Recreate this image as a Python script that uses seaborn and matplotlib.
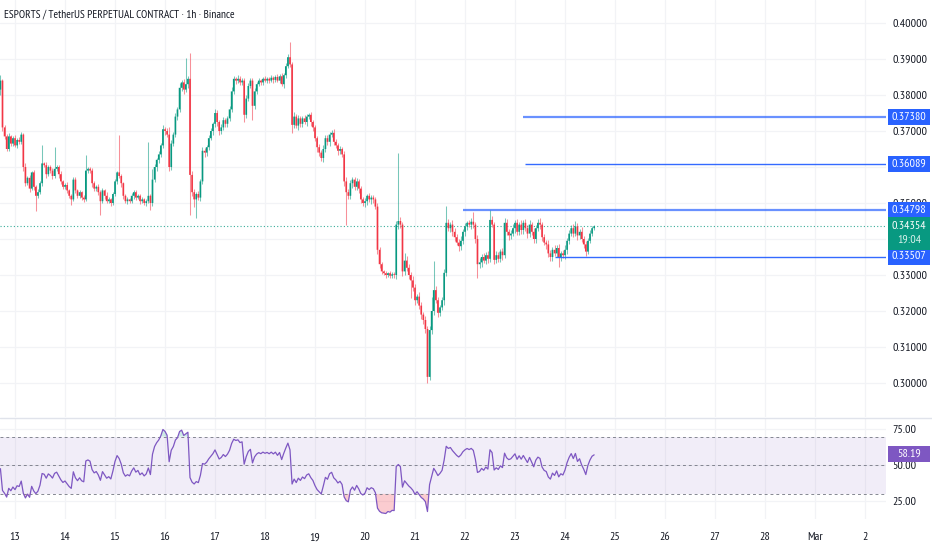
import os
import numpy as np
import pandas as pd
import matplotlib
matplotlib.use("Agg")
import matplotlib.pyplot as plt
import matplotlib.dates as mdates
import matplotlib.transforms as mtrans
from matplotlib import font_manager as fm
from matplotlib.lines import Line2D
from matplotlib.patches import Rectangle
import seaborn as sns

title = "ESPORTS / TetherUS PERPETUAL CONTRACT · 1h · Binance"
first_candle = "2025-02-12 17:00"
first_open = 0.3815

# hourly closes, one row = 12 candles
closes = [
    0.3840, 0.3710, 0.3685, 0.3650, 0.3685, 0.3665, 0.3680, 0.3660, 0.3675, 0.3670, 0.3690, 0.3600,
    0.3555, 0.3570, 0.3540, 0.3585, 0.3545, 0.3520, 0.3530, 0.3555, 0.3610, 0.3605, 0.3580, 0.3600,
    0.3590, 0.3575, 0.3595, 0.3600, 0.3580, 0.3560, 0.3545, 0.3550, 0.3535, 0.3520, 0.3510, 0.3565,
    0.3535, 0.3520, 0.3530, 0.3515, 0.3510, 0.3590, 0.3595, 0.3590, 0.3555, 0.3540, 0.3545, 0.3530,
    0.3505, 0.3535, 0.3520, 0.3505, 0.3510, 0.3500, 0.3525, 0.3560, 0.3585, 0.3575, 0.3555, 0.3520,
    0.3505, 0.3510, 0.3505, 0.3520, 0.3530, 0.3515, 0.3520, 0.3505, 0.3510, 0.3500, 0.3505, 0.3520,
    0.3500, 0.3565, 0.3600, 0.3620, 0.3635, 0.3660, 0.3705, 0.3700, 0.3690, 0.3600, 0.3665, 0.3690,
    0.3740, 0.3760, 0.3820, 0.3835, 0.3815, 0.3830, 0.3845, 0.3578, 0.3530, 0.3510, 0.3525, 0.3515,
    0.3560, 0.3645, 0.3640, 0.3655, 0.3680, 0.3700, 0.3720, 0.3750, 0.3725, 0.3700, 0.3710, 0.3730,
    0.3720, 0.3735, 0.3760, 0.3810, 0.3845, 0.3840, 0.3845, 0.3835, 0.3840, 0.3745, 0.3790, 0.3825,
    0.3840, 0.3770, 0.3810, 0.3830, 0.3840, 0.3835, 0.3845, 0.3840, 0.3845, 0.3840, 0.3848, 0.3842,
    0.3850, 0.3840, 0.3852, 0.3830, 0.3855, 0.3880, 0.3905, 0.3885, 0.3717, 0.3740, 0.3715, 0.3735,
    0.3720, 0.3735, 0.3725, 0.3740, 0.3745, 0.3725, 0.3710, 0.3680, 0.3655, 0.3640, 0.3625, 0.3650,
    0.3680, 0.3670, 0.3690, 0.3695, 0.3670, 0.3660, 0.3645, 0.3650, 0.3635, 0.3560, 0.3530, 0.3520,
    0.3555, 0.3565, 0.3545, 0.3560, 0.3540, 0.3510, 0.3500, 0.3505, 0.3520, 0.3510, 0.3515, 0.3510,
    0.3490, 0.3370, 0.3330, 0.3310, 0.3305, 0.3300, 0.3305, 0.3298, 0.3302, 0.3300, 0.3440, 0.3450,
    0.3440, 0.3310, 0.3340, 0.3320, 0.3300, 0.3285, 0.3265, 0.3230, 0.3240, 0.3215, 0.3190, 0.3175,
    0.3150, 0.3017, 0.3147, 0.3200, 0.3258, 0.3230, 0.3195, 0.3210, 0.3230, 0.3306, 0.3445, 0.3430,
    0.3440, 0.3420, 0.3405, 0.3390, 0.3380, 0.3395, 0.3420, 0.3435, 0.3445, 0.3440, 0.3448, 0.3440,
    0.3400, 0.3330, 0.3335, 0.3350, 0.3340, 0.3355, 0.3345, 0.3453, 0.3440, 0.3342, 0.3355, 0.3345,
    0.3365, 0.3355, 0.3445, 0.3420, 0.3410, 0.3415, 0.3430, 0.3445, 0.3420, 0.3440, 0.3425, 0.3445,
    0.3430, 0.3415, 0.3440, 0.3420, 0.3400, 0.3430, 0.3445, 0.3440, 0.3405, 0.3390, 0.3385, 0.3360,
    0.3350, 0.3370, 0.3360, 0.3375, 0.3350, 0.3360, 0.3355, 0.3370, 0.3395, 0.3415, 0.3430, 0.3415,
    0.3435, 0.3410, 0.3420, 0.3400, 0.3385, 0.3365, 0.3395, 0.3415, 0.3430, 0.34354,
]

# wick length above / below the body, in 0.0001
wick_up = [
    15, 5, 8, 6, 10, 4, 6, 8, 5, 7, 6, 4,
    10, 6, 8, 5, 6, 4, 8, 6, 50, 5, 8, 6,
    6, 8, 60, 5, 6, 8, 4, 6, 8, 5, 4, 6,
    8, 5, 6, 4, 8, 43, 6, 5, 8, 6, 5, 7,
    6, 8, 5, 10, 6, 4, 6, 8, 5, 105, 6, 4,
    5, 6, 4, 8, 6, 5, 6, 4, 6, 5, 6, 150,
    4, 30, 8, 6, 10, 8, 12, 6, 8, 20, 10, 8,
    10, 6, 12, 8, 10, 73, 8, 72, 10, 8, 6, 8,
    8, 10, 8, 6, 10, 8, 6, 12, 8, 6, 10, 8,
    6, 8, 10, 12, 8, 6, 10, 8, 6, 8, 10, 8,
    6, 8, 10, 6, 8, 5, 6, 8, 5, 6, 8, 5,
    6, 8, 5, 8, 6, 10, 8, 42, 8, 12, 8, 10,
    6, 8, 10, 8, 6, 8, 6, 8, 6, 10, 8, 12,
    8, 10, 6, 8, 10, 8, 6, 8, 6, 10, 12, 8,
    10, 8, 6, 10, 8, 6, 8, 10, 6, 8, 6, 8,
    6, 10, 8, 6, 5, 6, 4, 6, 5, 6, 10, 189,
    10, 8, 20, 12, 10, 8, 12, 10, 8, 12, 10, 8,
    10, 8, 10, 40, 82, 12, 10, 8, 10, 12, 47, 10,
    8, 12, 10, 8, 10, 12, 8, 10, 6, 8, 10, 27,
    8, 10, 12, 8, 10, 8, 12, 27, 10, 8, 12, 10,
    8, 10, 12, 10, 8, 10, 12, 8, 10, 8, 12, 8,
    10, 8, 12, 8, 10, 8, 10, 12, 8, 10, 8, 12,
    10, 8, 12, 8, 10, 8, 10, 12, 8, 10, 8, 12,
    15, 10, 8, 12, 8, 10, 8, 10, 6, 4,
]
wick_dn = [
    15, 10, 8, 6, 5, 8, 6, 4, 8, 6, 5, 10,
    8, 6, 10, 5, 8, 42, 6, 5, 8, 6, 10, 5,
    6, 8, 5, 6, 10, 8, 6, 5, 8, 6, 16, 5,
    8, 6, 5, 8, 6, 5, 8, 6, 10, 8, 6, 8,
    38, 6, 8, 5, 6, 8, 5, 6, 8, 6, 10, 8,
    6, 8, 5, 6, 8, 6, 5, 8, 6, 5, 8, 6,
    20, 8, 6, 10, 8, 6, 8, 10, 8, 12, 8, 6,
    8, 10, 6, 8, 12, 8, 10, 111, 10, 20, 52, 8,
    10, 8, 12, 10, 8, 6, 10, 8, 12, 10, 8, 6,
    8, 10, 6, 8, 6, 10, 8, 6, 8, 20, 10, 8,
    6, 40, 8, 6, 5, 8, 6, 5, 8, 6, 5, 8,
    6, 5, 8, 6, 10, 8, 6, 8, 23, 10, 8, 12,
    10, 8, 6, 10, 8, 12, 10, 8, 12, 10, 8, 10,
    8, 10, 12, 8, 10, 8, 12, 10, 8, 12, 91, 10,
    10, 12, 8, 10, 12, 10, 8, 12, 10, 8, 12, 10,
    8, 12, 10, 8, 6, 8, 6, 5, 6, 8, 10, 12,
    10, 12, 10, 8, 12, 50, 10, 12, 8, 10, 12, 10,
    12, 17, 10, 12, 10, 8, 12, 10, 8, 12, 10, 8,
    10, 12, 10, 8, 12, 10, 8, 12, 10, 8, 12, 10,
    12, 38, 10, 12, 8, 10, 12, 10, 8, 12, 10, 8,
    10, 12, 8, 10, 12, 10, 8, 12, 10, 8, 12, 10,
    8, 12, 10, 8, 12, 10, 8, 12, 10, 8, 12, 10,
    12, 10, 8, 10, 28, 12, 8, 10, 12, 10, 8, 10,
    8, 12, 10, 8, 10, 12, 8, 6, 8, 4,
]

# drawn horizontal levels
levels = [0.37380, 0.36089, 0.34798, 0.33507]
level_from = ["2025-02-23 04:00", "2025-02-23 05:00", "2025-02-21 23:00", "2025-02-23 19:00"]
level_lw = [1.6, 1.0, 1.6, 1.0]

last_price = 0.34354
countdown = "19:04"
rsi_label = 58.19
rsi_seed = (0.0009, 0.0012)  # avg gain / loss before the first candle

price_ticks = [0.30, 0.31, 0.32, 0.33, 0.34, 0.35, 0.36, 0.37, 0.38, 0.39, 0.40]
hidden_ticks = [0.34, 0.36]  # sit under the level boxes
rsi_ticks = [25, 50, 75]
days = pd.date_range("2025-02-13", "2025-03-02", freq="D")

UP, DN, BLUE, PURP, TXT = "#089981", "#f23645", "#2962ff", "#7e57c2", "#131722"
GRID = "#f2f3f6"

sns.set_style("white")
plt.rcParams["font.family"] = ["Liberation Sans", "DejaVu Sans"]


def pick_font():
    # the screenshot uses a narrow face, take one if the system has it
    for f in fm.fontManager.ttflist:
        base = os.path.basename(f.fname).lower()
        if "narrow" in base and "sans" in base and "regular" in base:
            return fm.FontProperties(fname=f.fname)
    return fm.FontProperties(family="Liberation Sans")


t = pd.date_range(first_candle, periods=len(closes), freq="h")
xs = mdates.date2num(t)
c = np.array(closes)
o = np.r_[first_open, c[:-1]]
hi = np.maximum(o, c) + np.array(wick_up) * 1e-4
lo = np.minimum(o, c) - np.array(wick_dn) * 1e-4
cols = np.where(c >= o, UP, DN)

# Wilder RSI 14
delta = c - o
gain = pd.Series(np.r_[rsi_seed[0], np.clip(delta, 0, None)])
loss = pd.Series(np.r_[rsi_seed[1], np.clip(-delta, 0, None)])
ag = gain.ewm(alpha=1 / 14, adjust=False).mean().iloc[1:].values
al = loss.ewm(alpha=1 / 14, adjust=False).mean().iloc[1:].values
rsi = 100 - 100 / (1 + ag / al)

W, H = 932, 550
fig = plt.figure(figsize=(W / 100, H / 100), dpi=100)
ax = fig.add_axes([0, 1 - 417 / H, 886 / W, 417 / H])
ax2 = fig.add_axes([0, 1 - 519 / H, 886 / W, 101 / H], sharex=ax)

renderer = fig.canvas.get_renderer()
base_font = pick_font()


def sized(text, px):
    probe = fig.text(0, 0, text, fontproperties=base_font, fontsize=10)
    w = probe.get_window_extent(renderer).width
    probe.remove()
    p = base_font.copy()
    p.set_size(10 * px / w)
    return p


lbl_font = sized("0.37380", 34)
title_font = sized(title, 232)

x0 = mdates.date2num(pd.Timestamp("2025-02-13")) - 7.2 / 24
x1 = mdates.date2num(pd.Timestamp("2025-02-13")) + 418.1 / 24

# candles
ax.vlines(xs, lo, hi, colors=cols, lw=0.75, alpha=0.55, zorder=2)
ax.bar(xs, np.maximum(np.abs(c - o), 0.00012), bottom=np.minimum(o, c),
       width=0.8 / 24, color=cols, lw=0, zorder=3, snap=False)

ax.axhline(last_price, color=UP, lw=0.8, ls=(0, (1, 2)), alpha=0.8, zorder=1)
for lv, st, lw in zip(levels, level_from, level_lw):
    ax.hlines(lv, mdates.date2num(pd.Timestamp(st)), x1, color=BLUE, lw=lw,
              alpha=0.7 if lw > 1.2 else 0.95, zorder=4)

ax.set_xlim(x0, x1)
ax.set_ylim(0.290556, 0.406389)
ax.set_yticks(price_ticks)
ax.set_yticklabels(["" if v in hidden_ticks else f"{v:.5f}" for v in price_ticks],
                   fontproperties=lbl_font)
ax.yaxis.tick_right()
ax.set_xticks(mdates.date2num(days))
ax.tick_params(axis="both", length=0, colors=TXT, pad=4.8, labelbottom=False)
ax.grid(True, color=GRID, lw=0.9)
for s in ax.spines.values():
    s.set_visible(False)


def price_box(axis, y, lines, fc, top_px, h_px):
    # label box on the price scale, sized in pixels
    lo_, hi_ = axis.get_ylim()
    per_px = (hi_ - lo_) / (axis.get_position().height * H)
    tr = mtrans.blended_transform_factory(fig.transFigure, axis.transData)
    axis.add_patch(Rectangle((888 / W, y - (top_px + h_px) * per_px),
                             42 / W, h_px * per_px, transform=tr, fc=fc, lw=0,
                             clip_on=False, zorder=10))
    for k, s in enumerate(lines):
        axis.text(909 / W, y - (k * 13.5 - 0.3) * per_px, s, transform=tr, ha="center",
                  va="center", color="white" if k == 0 else "#d8f2ec",
                  fontproperties=lbl_font, clip_on=False, zorder=11)


for lv in levels:
    price_box(ax, lv, [f"{lv:.5f}"], BLUE, -8, 16)
price_box(ax, last_price, [f"{last_price:.5f}", countdown], UP, -9.6, 33.3)

# RSI pane
ax2.axhspan(30, 70, color=PURP, alpha=0.1, lw=0)
for lv in (70, 50, 30):
    ax2.axhline(lv, color="#787b86", lw=0.7, ls=(0, (3, 3)), alpha=0.9)
ax2.fill_between(xs, rsi, 30, where=rsi < 30, interpolate=True, color=DN, alpha=0.25, lw=0)
ax2.fill_between(xs, rsi, 70, where=rsi > 70, interpolate=True, color=UP, alpha=0.2, lw=0)
sns.lineplot(x=xs, y=rsi, ax=ax2, color=PURP, lw=0.9)
ax2.set_ylim(12.5, 83.0)
ax2.set_yticks(rsi_ticks)
ax2.set_yticklabels([f"{v:.2f}" for v in rsi_ticks], fontproperties=lbl_font)
ax2.yaxis.tick_right()
ax2.set_xticks(mdates.date2num(days))
ax2.set_xticklabels(["Mar" if d.day == 1 else str(d.day) for d in days], fontproperties=lbl_font)
ax2.tick_params(axis="both", length=0, colors=TXT, pad=4.8)
ax2.tick_params(axis="x", pad=9.5)
ax2.grid(True, color=GRID, lw=0.9)
ax2.set_xlim(x0, x1)
ax2.set_ylabel("")
for s in ax2.spines.values():
    s.set_visible(False)
price_box(ax2, rsi_label, [f"{rsi_label:.2f}"], PURP, -8, 16)

fig.add_artist(Line2D([0, 1], [1 - 417.5 / H] * 2, color="#e0e3eb", lw=1))
fig.text(4 / W, 1 - 15 / H, title, ha="left", va="center", fontproperties=title_font, color=TXT)

fig.savefig("out.png", dpi=100, facecolor="white")
